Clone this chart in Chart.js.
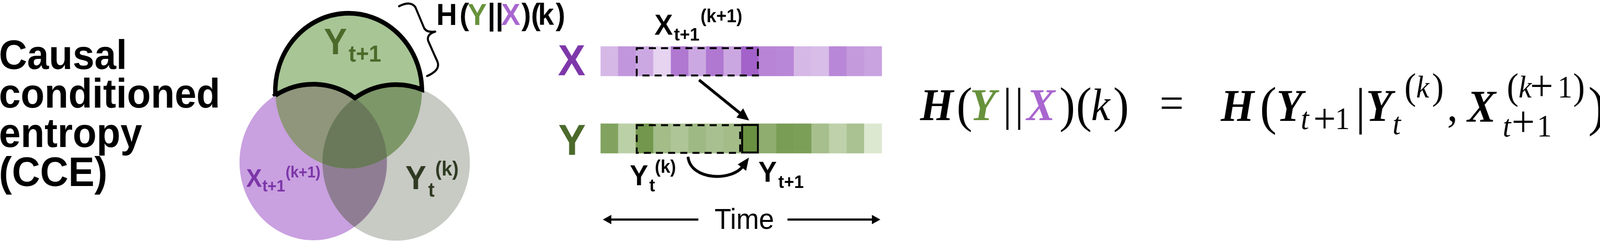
<!DOCTYPE html>
<html><head><meta charset="utf-8">
<script src="https://cdn.jsdelivr.net/npm/chart.js@4"></script>
<style>html,body{margin:0;padding:0;background:#fff;overflow:hidden;width:100%;height:100%}canvas{display:block}</style>
</head><body>
<canvas id="c" width="4342" height="618" style="width:100vw;height:100vh"></canvas>
<script>
// ---------------- DATA ----------------
const vennSets     = ['X_{t+1}^{(k+1)}', 'Y_t^{(k)}', 'Y_{t+1}'];
const vennCenterX  = [850, 1075, 946];
const vennCenterY  = [416, 417, 233];
const vennRadius   = [200, 200, 199];

const timeSteps = [1,2,3,4,5,6,7,8,9,10,11,12,13,14,15,16];
const seriesX   = [0.33,0.58,0.45,0.13,0.80,0.45,0.80,0.46,0.96,0.70,0.69,0.33,0.30,0.69,0.55,0.49];
const seriesY   = [0.77,0.31,0.88,0.51,0.42,0.54,0.47,0.51,0.95,0.66,0.83,0.81,0.48,0.30,0.45,0.06];
const targetStep = 9;   // Y_{t+1}
const historyK   = 6;   // k

// ---------------- LAYOUT / STYLE ----------------
const W = 4342, H = 618;
const SANS = '"Liberation Sans", Arial, Helvetica, sans-serif';
const SERIF = '"Liberation Serif", "Times New Roman", serif';
const cellStart = 1630, cellEnd = 2393, cellW = (cellEnd - cellStart) / timeSteps.length;
const tMin = (0 - cellStart) / cellW + 0.5, tMax = (W - cellStart) / cellW + 0.5;
const rowX = [119, 195], rowY = [317, 393];
const vennFill = ['#c9a0e0', '#c8cac4', '#a7c595'];
const overlapColors = {PQ:'#8f7d94', GP:'#8f967c', GQ:'#7d9768', GPQ:'#6a795a'};
const GREEN = '#67923c', PURPLE = '#a866cf';

function lerpColor(a, b, t){
  return 'rgb(' + a.map((v,i)=>Math.round(v + (b[i]-v)*t)).join(',') + ')';
}
const purpleScale = v => lerpColor([240,230,247],[160,92,200],v);
const greenScale  = v => lerpColor([228,238,218],[100,140,58],v);

// text tokens: [text, inkLeftX, y, size, weight, style, family, color, alignTop]
const textTokens = [
  ['Causal',1,177,106,'bold','normal',SANS,'#000'],
  ['conditioned',1,276,106,'bold','normal',SANS,'#000'],
  ['entropy',1,377,106,'bold','normal',SANS,'#000'],
  ['(CCE)',2,477,106,'bold','normal',SANS,'#000'],
  // venn labels
  ['Y',880,139,94,'bold','normal',SANS,'#4b6a2a'],
  ['t+1',946,158,60,'bold','normal',SANS,'#4b6a2a'],
  ['X',668,479,64,'bold','normal',SANS,'#7b35a8'],
  ['t+1',712,491,42,'bold','normal',SANS,'#7b35a8'],
  ['(k+1)',777,455,40,'bold','normal',SANS,'#7b35a8'],
  ['Y',1101,485,85,'bold','normal',SANS,'#2e3a21'],
  ['t',1162,504,52,'bold','normal',SANS,'#2e3a21'],
  ['(k)',1183,450,52,'bold','normal',SANS,'#2e3a21'],
  // H(Y||X)(k) label
  ['H',1189,64,78,'bold','normal',SANS,'#000'],
  ['(',1250,64,78,'bold','normal',SANS,'#000'],
  ['Y',1270,64,78,'bold','normal',SANS,GREEN],
  ['||',1328,64,78,'bold','normal',SANS,'#000'],
  ['X',1360,64,78,'bold','normal',SANS,PURPLE],
  [')(',1415,64,78,'bold','normal',SANS,'#000'],
  ['k',1465,64,78,'bold','normal',SANS,'#000'],
  [')',1508,64,78,'bold','normal',SANS,'#000'],
  // time series labels
  ['X',1514,193,112,'bold','normal',SANS,'#7e37a9'],
  ['Y',1516,397,112,'bold','normal',SANS,'#4b6a2b'],
  ['X',1776,89,75,'bold','normal',SANS,'#000'],
  ['t+1',1829,104,47,'bold','normal',SANS,'#000'],
  ['(k+1)',1903,57,48,'bold','normal',SANS,'#000'],
  ['Y',1710,475,75,'bold','normal',SANS,'#000'],
  ['t',1762,491,47,'bold','normal',SANS,'#000'],
  ['(k)',1779,443,47,'bold','normal',SANS,'#000'],
  ['Y',2059,466,75,'bold','normal',SANS,'#000'],
  ['t+1',2112,482,47,'bold','normal',SANS,'#000'],
  ['Time',1940,587,74,'normal','normal',SANS,'#000'],
  // equation
  ['H',2496,308,116,'bold','italic',SERIF,'#000'],
  ['(',2601,223,128,'normal','normal',SERIF,'#000',true],
  ['Y',2637,308,116,'bold','italic',SERIF,GREEN],
  ['|',2730,225,118,'normal','normal',SERIF,'#000',true],
  ['|',2762,225,118,'normal','normal',SERIF,'#000',true],
  ['X',2783,308,116,'bold','italic',SERIF,PURPLE],
  [')',2879,223,128,'normal','normal',SERIF,'#000',true],
  ['(',2925,223,128,'normal','normal',SERIF,'#000',true],
  ['k',2964,308,116,'normal','italic',SERIF,'#000'],
  [')',3025,223,128,'normal','normal',SERIF,'#000',true],
  ['=',3152,303,116,'normal','normal',SERIF,'#000'],
  ['H',3312,310,116,'bold','italic',SERIF,'#000'],
  ['(',3424,222,136,'normal','normal',SERIF,'#000',true],
  ['Y',3469,310,116,'bold','italic',SERIF,'#000'],
  ['t',3533,331,80,'normal','italic',SERIF,'#000'],
  ['+',3569,340,108,'normal','normal',SERIF,'#000'],
  ['1',3630,331,80,'normal','normal',SERIF,'#000'],
  ['|',3688,225,132,'normal','normal',SERIF,'#000',true],
  ['Y',3712,310,116,'bold','italic',SERIF,'#000'],
  ['t',3782,344,80,'normal','italic',SERIF,'#000'],
  ['(',3815,187,96,'normal','normal',SERIF,'#000',true],
  ['k',3845,250,80,'normal','italic',SERIF,'#000'],
  [')',3889,187,96,'normal','normal',SERIF,'#000',true],
  [',',3931,310,116,'normal','normal',SERIF,'#000'],
  ['X',3979,312,116,'bold','italic',SERIF,'#000'],
  ['t',4081,350,80,'normal','italic',SERIF,'#000'],
  ['+',4107,350,112,'normal','normal',SERIF,'#000'],
  ['1',4178,350,80,'normal','normal',SERIF,'#000'],
  ['(',4093,187,96,'normal','normal',SERIF,'#000',true],
  ['k',4123,250,80,'normal','italic',SERIF,'#000'],
  ['+',4157,258,112,'normal','normal',SERIF,'#000'],
  ['1',4234,250,80,'normal','normal',SERIF,'#000'],
  [')',4272,187,96,'normal','normal',SERIF,'#000',true],
  [')',4314,222,140,'normal','normal',SERIF,'#000',true]
];

function drawText(ctx, t){
  const [str,x,y,size,weight,style,family,color,top] = t;
  ctx.font = style + ' ' + weight + ' ' + size + 'px ' + family;
  ctx.fillStyle = color;
  ctx.textAlign = 'left';
  ctx.textBaseline = 'alphabetic';
  const m = ctx.measureText(str);
  const yy = top ? y + m.actualBoundingBoxAscent : y;
  ctx.fillText(str, x + m.actualBoundingBoxLeft, yy);
}

function circleInter(a, b){
  const dx=b.x-a.x, dy=b.y-a.y, d=Math.hypot(dx,dy);
  const l=(a.r*a.r-b.r*b.r+d*d)/(2*d), h=Math.sqrt(Math.max(0,a.r*a.r-l*l));
  const mx=a.x+l*dx/d, my=a.y+l*dy/d;
  return [{x:mx+h*dy/d, y:my-h*dx/d},{x:mx-h*dy/d, y:my+h*dx/d}];
}
const ang = (c,p) => Math.atan2(p.y-c.y, p.x-c.x);

function arrowHead(ctx, tip, dir, len, half){
  const bx=tip.x-dir.x*len, by=tip.y-dir.y*len;
  ctx.beginPath();
  ctx.moveTo(tip.x,tip.y);
  ctx.lineTo(bx-dir.y*half, by+dir.x*half);
  ctx.lineTo(bx+dir.y*half, by-dir.x*half);
  ctx.closePath(); ctx.fill();
}

const overlay = {
  id:'overlay',
  afterDatasetsDraw(chart){
    const ctx=chart.ctx, sx=chart.scales.x, sy=chart.scales.y, st=chart.scales.t;
    const X=v=>sx.getPixelForValue(v), Y=v=>sy.getPixelForValue(v);
    const circ = vennSets.map((s,i)=>({x:X(vennCenterX[i]), y:Y(vennCenterY[i]), r:vennRadius[i]}));
    const [P,Q,G] = circ;
    const clipC=c=>{ctx.beginPath();ctx.arc(c.x,c.y,c.r,0,2*Math.PI);ctx.clip();};
    const fillC=(c,col)=>{ctx.beginPath();ctx.arc(c.x,c.y,c.r,0,2*Math.PI);ctx.fillStyle=col;ctx.fill();};
    ctx.save(); clipC(P); fillC(Q, overlapColors.PQ); ctx.restore();
    ctx.save(); clipC(P); fillC(G, overlapColors.GP); ctx.restore();
    ctx.save(); clipC(Q); fillC(G, overlapColors.GQ); ctx.restore();
    ctx.save(); clipC(P); clipC(Q); fillC(G, overlapColors.GPQ); ctx.restore();

    // outline of the Y_{t+1}-only region: H(Y||X)(k)
    const A = circleInter(G,P).sort((a,b)=>a.x-b.x)[0];
    const B = circleInter(G,Q).sort((a,b)=>b.x-a.x)[0];
    const C = circleInter(P,Q).sort((a,b)=>a.y-b.y)[0];
    ctx.save();
    ctx.beginPath();
    ctx.arc(G.x,G.y,G.r, ang(G,A), ang(G,B), false);
    ctx.arc(Q.x,Q.y,Q.r, ang(Q,B), ang(Q,C), true);
    ctx.arc(P.x,P.y,P.r, ang(P,C), ang(P,A), true);
    ctx.closePath();
    ctx.lineWidth = 12; ctx.lineJoin='miter'; ctx.miterLimit=3; ctx.strokeStyle='#000';
    ctx.stroke();
    ctx.restore();

    // curly brace
    ctx.save();
    ctx.strokeStyle='#000'; ctx.lineWidth=5.5; ctx.lineCap='round'; ctx.lineJoin='round';
    ctx.beginPath();
    ctx.moveTo(X(1083),Y(16));
    ctx.quadraticCurveTo(X(1113),Y(1),X(1127),Y(18));
    ctx.lineTo(X(1151),Y(72));
    ctx.quadraticCurveTo(X(1158),Y(84),X(1181),Y(81));
    ctx.quadraticCurveTo(X(1157),Y(88),X(1162),Y(105));
    ctx.lineTo(X(1187),Y(158));
    ctx.quadraticCurveTo(X(1196),Y(180),X(1159),Y(195));
    ctx.stroke();
    ctx.restore();

    // history windows
    const cx = v => st.getPixelForValue(v);
    const x1 = cx(targetStep - historyK - 0.5), x2 = cx(targetStep + 0.5), xT = cx(targetStep - 0.5);
    ctx.save();
    ctx.strokeStyle='#000'; ctx.lineWidth=5; ctx.lineCap='butt';
    ctx.setLineDash([19,14]);
    ctx.strokeRect(x1+2.5, Y(123.5), (x2-2.5)-(x1+2.5), Y(193.5)-Y(123.5));
    ctx.strokeRect(x1+2.5, Y(321), (xT-3)-(x1+2.5), Y(392)-Y(321));
    ctx.setLineDash([]);
    ctx.strokeRect(xT+2.5, Y(320.5), (x2-2.5)-(xT+2.5), Y(391)-Y(320.5));
    ctx.restore();

    // arrows
    ctx.save();
    ctx.strokeStyle='#000'; ctx.fillStyle='#000'; ctx.lineCap='butt';
    {
      const s={x:X(1897),y:Y(205)}, tip={x:X(2033),y:Y(309)};
      const dx=tip.x-s.x, dy=tip.y-s.y, L=Math.hypot(dx,dy), d={x:dx/L,y:dy/L};
      ctx.lineWidth=7.5; ctx.beginPath(); ctx.moveTo(s.x,s.y); ctx.lineTo(tip.x-d.x*26, tip.y-d.y*26); ctx.stroke();
      arrowHead(ctx, tip, d, 32, 15);
    }
    {
      const p0={x:X(1867),y:Y(402)}, p1={x:X(1874),y:Y(463)}, p2={x:X(1987),y:Y(466)}, p3={x:X(2017),y:Y(425)};
      const dx=p3.x-p2.x, dy=p3.y-p2.y, L=Math.hypot(dx,dy), d={x:dx/L,y:dy/L};
      ctx.lineWidth=7.5; ctx.beginPath(); ctx.moveTo(p0.x,p0.y); ctx.bezierCurveTo(p1.x,p1.y,p2.x,p2.y,p3.x,p3.y); ctx.stroke();
      arrowHead(ctx, {x:p3.x+d.x*26, y:p3.y+d.y*26}, d, 32, 14);
    }
    ctx.lineWidth=5.5;
    ctx.beginPath(); ctx.moveTo(X(1652),Y(563)); ctx.lineTo(X(1895),Y(563)); ctx.stroke();
    arrowHead(ctx, {x:X(1636),y:Y(563)}, {x:-1,y:0}, 23, 12);
    ctx.beginPath(); ctx.moveTo(X(2137),Y(563)); ctx.lineTo(X(2373),Y(563)); ctx.stroke();
    arrowHead(ctx, {x:X(2389),y:Y(563)}, {x:1,y:0}, 23, 12);
    ctx.restore();

    ctx.save();
    textTokens.forEach(t => drawText(ctx, t));
    ctx.restore();
  }
};

new Chart(document.getElementById('c'), {
  type: 'bar',
  data: {
    datasets: [
      {
        type: 'bubble', label: 'Venn',
        data: vennSets.map((s,i)=>({x:vennCenterX[i], y:vennCenterY[i], r:vennRadius[i]})),
        backgroundColor: vennFill, borderWidth: 0, hoverRadius: 0,
        xAxisID: 'x', yAxisID: 'y', clip: false
      },
      {
        type: 'bar', label: 'X',
        data: timeSteps.map((t,i)=>({x:t, y:rowX})),
        backgroundColor: seriesX.map(purpleScale), borderWidth: 0,
        grouped: false, barPercentage: 1, categoryPercentage: 1,
        xAxisID: 't', yAxisID: 'y'
      },
      {
        type: 'bar', label: 'Y',
        data: timeSteps.map((t,i)=>({x:t, y:rowY})),
        backgroundColor: seriesY.map(greenScale), borderWidth: 0,
        grouped: false, barPercentage: 1, categoryPercentage: 1,
        xAxisID: 't', yAxisID: 'y'
      }
    ]
  },
  options: {
    responsive: false, animation: false, devicePixelRatio: 1, events: [],
    layout: { padding: 0, autoPadding: false },
    plugins: { legend: { display: false }, tooltip: { enabled: false } },
    scales: {
      x: { type: 'linear', min: 0, max: W, display: false, offset: false },
      t: { type: 'linear', axis: 'x', position: 'bottom', min: tMin, max: tMax, display: false, offset: false, ticks: { stepSize: 1 } },
      y: { type: 'linear', min: 0, max: H, reverse: true, display: false }
    }
  },
  plugins: [overlay]
});
</script>
</body></html>
